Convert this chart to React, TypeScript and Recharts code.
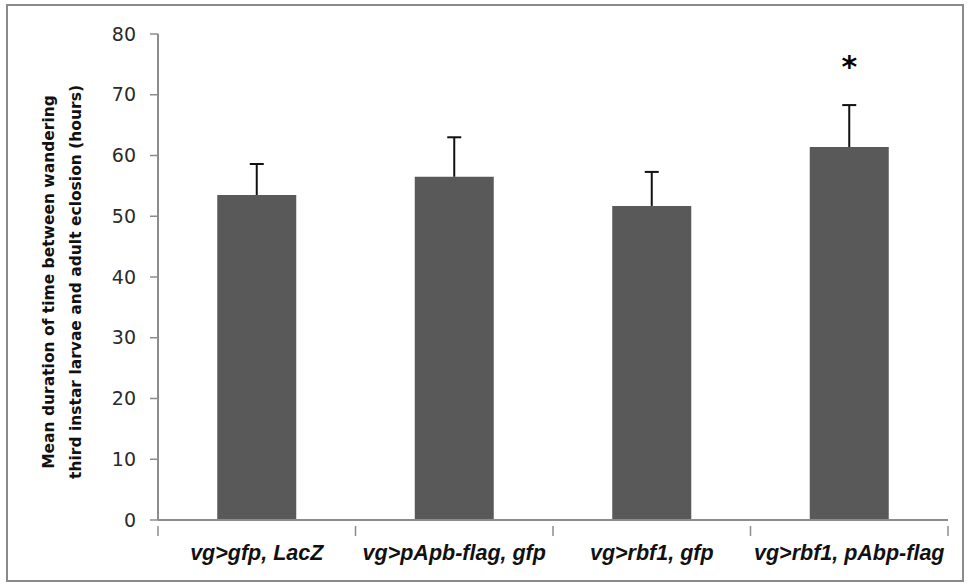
import { Bar, ComposedChart, Scatter, XAxis, YAxis } from "recharts";

const genotypes = [
  "vg>gfp, LacZ",
  "vg>pApb-flag, gfp",
  "vg>rbf1, gfp",
  "vg>rbf1, pAbp-flag",
];
const meanHours = [53.5, 56.5, 51.7, 61.4];
const errHours = [5.1, 6.5, 5.6, 6.9];
const starAt = [null, null, null, 74.6];
const yTicks = [0, 10, 20, 30, 40, 50, 60, 70, 80];

const data = genotypes.map((g, i) => ({
  name: g,
  mean: meanHours[i],
  err: errHours[i],
  star: starAt[i],
}));

// upper-only error bar, drawn as a stacked segment on top of the mean bar
function UpperError(props: any) {
  const { x, y, width, height } = props;
  if (x == null || y == null) return null;
  const cx = x + width / 2;
  return (
    <g stroke="#111" strokeWidth={2}>
      <line x1={cx} x2={cx} y1={y + height} y2={y} />
      <line x1={cx - 7} x2={cx + 7} y1={y} y2={y} />
    </g>
  );
}

// category label plus the tick marks at the category boundaries
function CatTick(props: any) {
  const { x, y, payload, index, visibleTicksCount } = props;
  const half = payload?.offset ?? 0;
  const axisY = y - 19;
  const tickStroke = { stroke: "#8c8c8c", strokeWidth: 1.5 };
  return (
    <g>
      {half > 0 && (
        <line x1={x - half} x2={x - half} y1={axisY} y2={axisY + 10} {...tickStroke} />
      )}
      {half > 0 && index === visibleTicksCount - 1 && (
        <line x1={x + half} x2={x + half} y1={axisY} y2={axisY + 10} {...tickStroke} />
      )}
      <text
        x={x}
        y={y}
        dy="0.71em"
        textAnchor="middle"
        fontFamily="Liberation Sans"
        fontWeight="bold"
        fontStyle="italic"
        fontSize={21.5}
        fill="#111"
      >
        {payload.value}
      </text>
    </g>
  );
}

function Star(props: any) {
  const { cx, cy } = props;
  if (cx == null || cy == null || props.payload?.star == null) return null;
  return (
    <text
      x={cx}
      y={cy}
      textAnchor="middle"
      dominantBaseline="central"
      fontFamily="DejaVu Sans"
      fontWeight="bold"
      fontSize={30}
      fill="#000"
    >
      *
    </text>
  );
}

function YTitle() {
  return (
    <text
      transform="translate(60,282) rotate(-90)"
      textAnchor="middle"
      fontFamily="DejaVu Sans"
      fontWeight="bold"
      fontSize={15.5}
      fill="#111"
    >
      <tspan x={0} dy={-6}>
        Mean duration of time between wandering
      </tspan>
      <tspan x={0} dy={27}>
        third instar larvae and adult eclosion (hours)
      </tspan>
    </text>
  );
}

export default function App() {
  return (
    <div
      style={{
        position: "absolute",
        left: 0,
        top: 0,
        width: 968,
        height: 586,
        background: "#fff",
      }}
    >
      <div
        style={{
          position: "absolute",
          left: 6,
          top: 4,
          width: 958,
          height: 578,
          border: "2px solid #8a8a8a",
          boxSizing: "border-box",
        }}
      />
      <ComposedChart
        width={968}
        height={586}
        data={data}
        margin={{ top: 34, right: 20, left: 0, bottom: 0 }}
        barCategoryGap="30%"
      >
        <XAxis
          dataKey="name"
          height={66}
          tickLine={false}
          axisLine={{ stroke: "#8c8c8c", strokeWidth: 2 }}
          tickMargin={19}
          interval={0}
          tick={<CatTick />}
        />
        <YAxis
          width={158}
          domain={[0, 80]}
          ticks={yTicks}
          interval={0}
          tickSize={8}
          tickMargin={14}
          axisLine={{ stroke: "#8c8c8c", strokeWidth: 2 }}
          tickLine={{ stroke: "#8c8c8c", strokeWidth: 1.5 }}
          tick={{ fontFamily: "DejaVu Sans", fontSize: 19, fill: "#2a2a2a" }}
          label={<YTitle />}
        />
        <Bar dataKey="mean" stackId="s" fill="#595959" isAnimationActive={false} />
        <Bar
          dataKey="err"
          stackId="s"
          fill="none"
          shape={<UpperError />}
          isAnimationActive={false}
        />
        <Scatter dataKey="star" shape={<Star />} isAnimationActive={false} />
      </ComposedChart>
    </div>
  );
}
